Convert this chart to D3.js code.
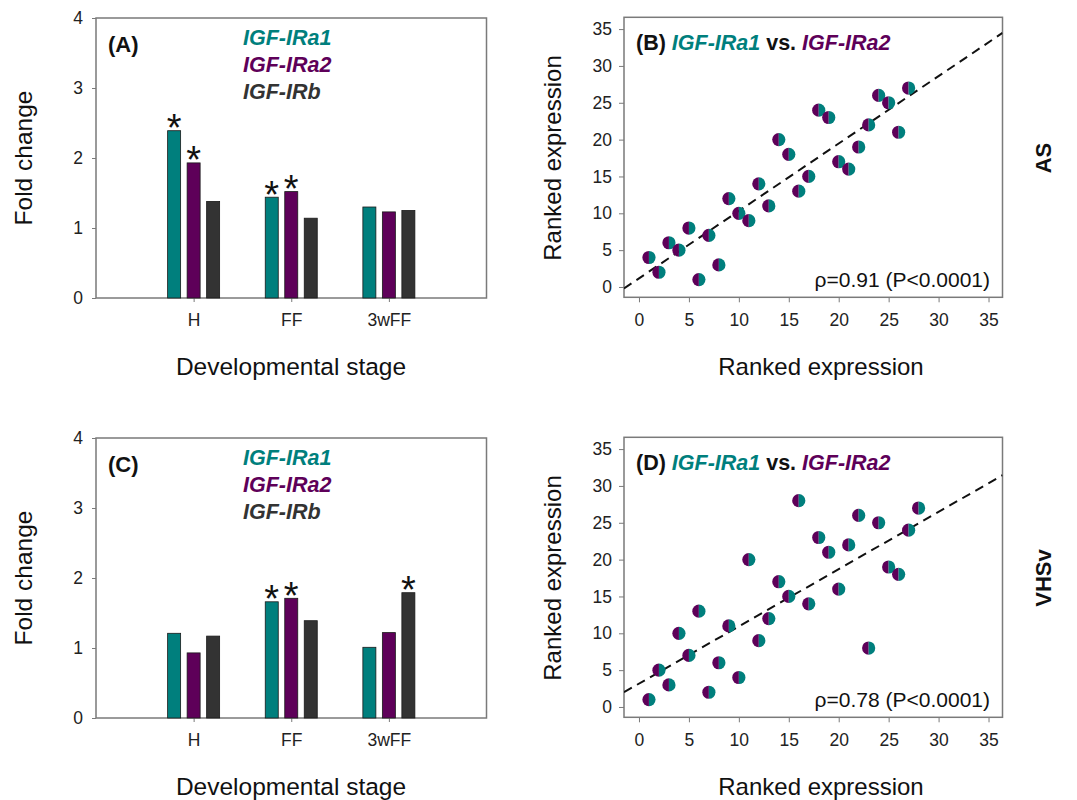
<!DOCTYPE html>
<html lang="en">
<head>
  <meta charset="UTF-8">
  <title>IGF-IR expression</title>
  <style>
    body { margin: 0; background: #fff; }
    text { font-family: "Liberation Sans", Arial, sans-serif; }
  </style>
</head>
<body>
  <div id="main"></div>
  <script src="https://cdn.jsdelivr.net/npm/d3@7"></script>
  <script>
  // data
  const stages = ["H", "FF", "3wFF"]
  const genes = ["IGF-IRa1", "IGF-IRa2", "IGF-IRb"]
  const foldTicks = [0, 1, 2, 3, 4]

  // AS (panel A)
  const asIRa1 = [2.39, 1.44, 1.30]
  const asIRa2 = [1.93, 1.52, 1.23]
  const asIRb = [1.38, 1.14, 1.25]
  const asStars = [["H", "IGF-IRa1"], ["H", "IGF-IRa2"], ["FF", "IGF-IRa1"], ["FF", "IGF-IRa2"]]

  // VHSv (panel C)
  const vhsIRa1 = [1.21, 1.66, 1.01]
  const vhsIRa2 = [0.93, 1.71, 1.22]
  const vhsIRb = [1.17, 1.39, 1.79]
  const vhsStars = [["FF", "IGF-IRa1"], ["FF", "IGF-IRa2"], ["3wFF", "IGF-IRb"]]

  // ranked expression (panel B)
  const asRankA1 = [1, 2, 3, 4, 5, 6, 7, 8, 9, 10, 11, 12, 13, 14, 15, 16, 17, 18, 19, 20, 21, 22, 23, 24, 25, 26, 27]
  const asRankA2 = [4, 2, 6, 5, 8, 1, 7, 3, 12, 10, 9, 14, 11, 20, 18, 13, 15, 24, 23, 17, 16, 19, 22, 26, 25, 21, 27]
  const asFit = [0.915, 1.17]   // slope, intercept
  const asRho = "ρ=0.91 (P<0.0001)"

  // ranked expression (panel D)
  const vhsRankA1 = [1, 2, 3, 4, 5, 6, 7, 8, 9, 10, 11, 12, 13, 14, 15, 16, 17, 18, 19, 20, 21, 22, 23, 24, 25, 26, 27, 28]
  const vhsRankA2 = [1, 5, 3, 10, 7, 13, 2, 6, 11, 4, 20, 9, 12, 17, 15, 28, 14, 23, 21, 16, 22, 26, 8, 25, 19, 18, 24, 27]
  const vhsFit = [0.777, 3.17]
  const vhsRho = "ρ=0.78 (P<0.0001)"

  const rankTicks = [0, 5, 10, 15, 20, 25, 30, 35]

  // colours
  const teal = "#007f7d"
  const purple = "#5e0059"
  const dark = "#333333"
  const geneColor = d3.scaleOrdinal().domain(genes).range([teal, purple, dark])
  const boxColor = "#7a7a7a"
  const tickFont = 17.5

  let svg = d3.select('#main').append('svg')
    .attr('width', 1077)
    .attr('height', 800)
    .style('display', 'block')

  function rows(a1, a2, b) {
    return stages.map((s, i) => ({ stage: s, values: [a1[i], a2[i], b[i]] }))
  }

  // bar panel
  function drawBars(offY, letter, data, stars) {
    let g = svg.append('g').attr('transform', `translate(0,${offY})`)
    let x = d3.scaleLinear().domain([0, 4]).range([96, 486.5])
    let y = d3.scaleLinear().domain([0, 4]).range([298, 18])
    let inner = d3.scaleBand().domain(genes).range([-32.5, 32.5]).padding(1 / 3)
    let pos = d3.scalePoint().domain(stages).range([x(1), x(3)])

    g.append('rect')
      .attr('x', x(0)).attr('y', y(4))
      .attr('width', x(4) - x(0)).attr('height', y(0) - y(4))
      .attr('fill', 'none').attr('stroke', boxColor).attr('stroke-width', 1.5)

    let ay = g.append('g').attr('transform', `translate(${x(0)},0)`)
      .call(d3.axisLeft(y).tickValues(foldTicks).tickFormat(d3.format('d')).tickSize(4).tickPadding(9))
    let ax = g.append('g').attr('transform', `translate(0,${y(0)})`)
      .call(d3.axisBottom(pos).tickSize(4).tickPadding(12))
    ;[ay, ax].forEach(a => {
      a.select('.domain').remove()
      a.selectAll('line').attr('stroke', boxColor)
      a.selectAll('text').attr('font-size', tickFont).attr('fill', '#222')
        .style('font-family', '"Liberation Sans", Arial, sans-serif')
    })

    data.forEach(row => {
      row.values.forEach((v, i) => {
        g.append('rect')
          .attr('x', pos(row.stage) + inner(genes[i]))
          .attr('y', y(v))
          .attr('width', inner.bandwidth())
          .attr('height', y(0) - y(v))
          .attr('fill', geneColor(genes[i]))
          .attr('stroke', '#1a1a1a')
          .attr('stroke-width', 0.8)
      })
    })

    stars.forEach(([s, gene]) => {
      let v = data.find(r => r.stage === s).values[genes.indexOf(gene)]
      g.append('text')
        .attr('x', pos(s) + inner(gene) + inner.bandwidth() / 2)
        .attr('y', y(v) + 10.5)
        .attr('text-anchor', 'middle')
        .attr('font-size', 38)
        .attr('fill', '#111')
        .text('*')
    })

    g.append('text').attr('x', 108).attr('y', 52)
      .attr('font-size', 22).attr('font-weight', 'bold').attr('fill', '#111')
      .text(`(${letter})`)

    genes.forEach((gene, i) => {
      g.append('text').attr('x', 243).attr('y', 45 + i * 26.8)
        .attr('font-size', 21.5).attr('font-weight', 'bold').attr('font-style', 'italic')
        .attr('fill', geneColor(gene))
        .text(gene)
    })

    g.append('text')
      .attr('transform', 'translate(32,158) rotate(-90)')
      .attr('text-anchor', 'middle').attr('font-size', 24.5).attr('fill', '#111')
      .text('Fold change')
    g.append('text').attr('x', 291).attr('y', 375)
      .attr('text-anchor', 'middle').attr('font-size', 24.5).attr('fill', '#111')
      .text('Developmental stage')
  }

  // scatter panel
  function drawScatter(offY, letter, xs, ys, fit, rho, side) {
    let g = svg.append('g').attr('transform', `translate(0,${offY})`)
    let x = d3.scaleLinear().domain([-1.5, 36.4]).range([624, 1002.5])
    let y = d3.scaleLinear().domain([-1.4, 36.6]).range([297.3, 17.3])

    g.append('rect')
      .attr('x', 624).attr('y', 17.3)
      .attr('width', 1002.5 - 624).attr('height', 297.3 - 17.3)
      .attr('fill', 'none').attr('stroke', boxColor).attr('stroke-width', 1.5)

    let ay = g.append('g').attr('transform', 'translate(624,0)')
      .call(d3.axisLeft(y).tickValues(rankTicks).tickSize(5).tickPadding(7))
    let ax = g.append('g').attr('transform', 'translate(0,297.3)')
      .call(d3.axisBottom(x).tickValues(rankTicks).tickSize(5).tickPadding(11.5))
    ;[ay, ax].forEach(a => {
      a.select('.domain').remove()
      a.selectAll('line').attr('stroke', boxColor)
      a.selectAll('text').attr('font-size', tickFont).attr('fill', '#222')
        .style('font-family', '"Liberation Sans", Arial, sans-serif')
    })

    // clip the fit line to the frame
    let clipId = 'clip' + letter
    g.append('clipPath').attr('id', clipId)
      .append('rect').attr('x', 624).attr('y', 17.3)
      .attr('width', 1002.5 - 624).attr('height', 297.3 - 17.3)
    let x0 = x.domain()[0], x1 = x.domain()[1]
    g.append('line')
      .attr('clip-path', `url(#${clipId})`)
      .attr('x1', x(x0)).attr('y1', y(fit[1] + fit[0] * x0))
      .attr('x2', x(x1)).attr('y2', y(fit[1] + fit[0] * x1))
      .attr('stroke', '#111').attr('stroke-width', 2)
      .attr('stroke-dasharray', '9 6')

    // half teal / half purple dots
    let right = d3.arc().innerRadius(0).outerRadius(6.6).startAngle(0).endAngle(Math.PI)
    let left = d3.arc().innerRadius(0).outerRadius(6.6).startAngle(Math.PI).endAngle(2 * Math.PI)
    xs.forEach((xv, i) => {
      let p = g.append('g').attr('transform', `translate(${x(xv)},${y(ys[i])})`)
      p.append('path').attr('d', left()).attr('fill', purple)
      p.append('path').attr('d', right()).attr('fill', teal)
    })

    let t = g.append('text').attr('x', 636).attr('y', 50)
      .attr('font-size', 21.5).attr('font-weight', 'bold').attr('fill', '#111')
    t.append('tspan').text(`(${letter}) `)
    t.append('tspan').attr('fill', teal).attr('font-style', 'italic').text('IGF-IRa1')
    t.append('tspan').text(' vs. ')
    t.append('tspan').attr('fill', purple).attr('font-style', 'italic').text('IGF-IRa2')

    g.append('text').attr('x', 990).attr('y', 287)
      .attr('text-anchor', 'end').attr('font-size', 21).attr('fill', '#111')
      .text(rho)

    g.append('text')
      .attr('transform', 'translate(561,158) rotate(-90)')
      .attr('text-anchor', 'middle').attr('font-size', 24).attr('fill', '#111')
      .text('Ranked expression')
    g.append('text').attr('x', 821).attr('y', 375)
      .attr('text-anchor', 'middle').attr('font-size', 24).attr('fill', '#111')
      .text('Ranked expression')

    g.append('text')
      .attr('transform', 'translate(1051,158) rotate(-90)')
      .attr('text-anchor', 'middle').attr('font-size', 22).attr('font-weight', 'bold').attr('fill', '#111')
      .text(side)
  }

  function main() {
    drawBars(0, 'A', rows(asIRa1, asIRa2, asIRb), asStars)
    drawScatter(0, 'B', asRankA1, asRankA2, asFit, asRho, 'AS')
    drawBars(420, 'C', rows(vhsIRa1, vhsIRa2, vhsIRb), vhsStars)
    drawScatter(420, 'D', vhsRankA1, vhsRankA2, vhsFit, vhsRho, 'VHSv')
  }

  main()
  </script>
</body>
</html>
